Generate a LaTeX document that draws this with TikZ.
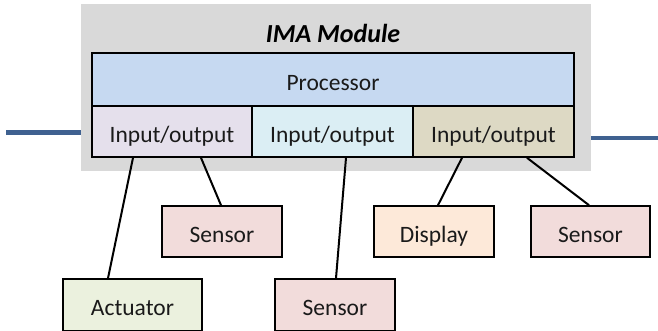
\documentclass[tikz,border=0pt]{standalone}
\usepackage{fontspec}
\setmainfont{Carlito}
\usetikzlibrary{calc}

\definecolor{modgrey}{HTML}{D9D9D9}
\definecolor{procblue}{HTML}{C6D9F1}
\definecolor{ioviolet}{HTML}{E5E0EC}
\definecolor{iocyan}{HTML}{DBEEF4}
\definecolor{iotan}{HTML}{DDD9C4}
\definecolor{sensorpink}{HTML}{F2DCDB}
\definecolor{actgreen}{HTML}{EBF1DE}
\definecolor{disppeach}{HTML}{FDE9D9}
\definecolor{busblue}{HTML}{3F6190}
\definecolor{inkblack}{HTML}{1A1A1A}

\tikzset{
  unit/.style={draw=black, line width=1.6pt, inner sep=0pt, text=inkblack,
    text height=21pt, text depth=0pt,
    font=\fontsize{23.5}{27}\selectfont},
  device/.style={unit, minimum width=120pt, minimum height=51pt},
  link/.style={draw=black, line width=2pt},
  bus/.style={draw=busblue, line width=4.5pt},
}

\begin{document}
\begin{tikzpicture}[x=1pt,y=-1pt]
  \clip (0,0) rectangle (658,330);
  \useasboundingbox (0,0) rectangle (658,330);

  % module housing
  \node[fill=modgrey, inner sep=0pt, minimum width=510pt, minimum height=167pt] (ima) at (336,87.5) {};
  \node[font=\fontsize{26}{30}\selectfont\bfseries\itshape, text=black] (title) at (333,33.5) {IMA Module};

  % processor and I/O partitions
  \node[unit, fill=procblue, minimum width=482pt, minimum height=53pt] (proc) at (333,79.5) {Processor};
  \node[unit, fill=ioviolet, minimum width=160pt, minimum height=51pt] (io1) at (172,131.5) {Input/output};
  \node[unit, fill=iocyan, minimum width=161pt, minimum height=51pt] (io2) at (332.5,131.5) {Input/output};
  \node[unit, fill=iotan, minimum width=161pt, minimum height=51pt] (io3) at (493.5,131.5) {Input/output};

  % external bus
  \coordinate (busL) at (6,132.5);
  \coordinate (busR) at (658,138);
  \draw[bus] (busL) -- (busL -| ima.west);
  \draw[bus] (busR -| ima.east) -- (busR);

  % peripheral devices
  \node[device, fill=sensorpink] (sen1) at (222,231.5) {Sensor};
  \node[device, fill=disppeach] (disp) at (434,231.5) {Display};
  \node[device, fill=sensorpink, minimum width=119pt] (sen3) at (590.5,231.5) {Sensor};
  \node[device, fill=actgreen, minimum width=139pt, minimum height=52pt] (act) at (132.5,305) {Actuator};
  \node[device, fill=sensorpink, minimum height=52pt] (sen2) at (335,305) {Sensor};

  % wiring
  \draw[link] ([xshift=-39pt]io1.south) -- ([xshift=-24.5pt]act.north);
  \draw[link] ([xshift=29pt]io1.south) -- ([xshift=-1pt]sen1.north);
  \draw[link] ([xshift=13.5pt]io2.south) -- ([xshift=1pt]sen2.north);
  \draw[link] ([xshift=-31.5pt]io3.south) -- ([xshift=4pt]disp.north);
  \draw[link] ([xshift=33.5pt]io3.south) -- ([xshift=-1.5pt]sen3.north);
\end{tikzpicture}
\end{document}
